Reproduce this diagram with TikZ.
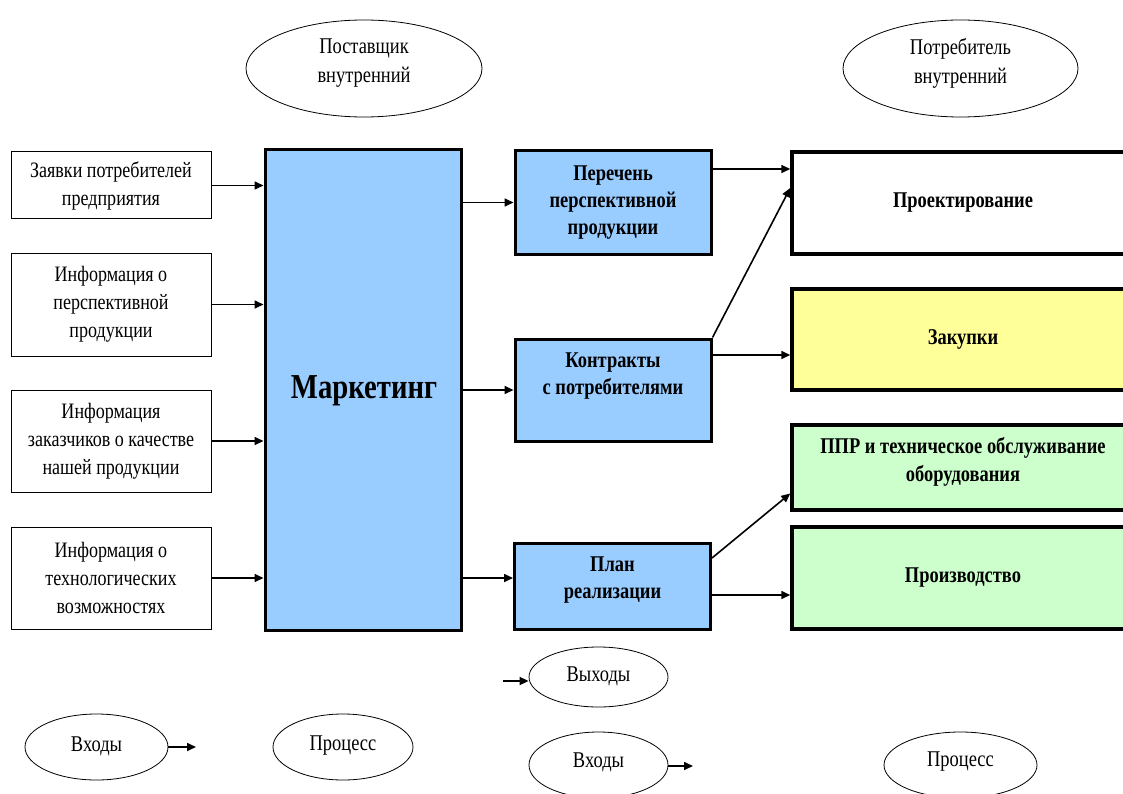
\documentclass[tikz,border=0pt]{standalone}
\usepackage{fontspec}
\setmainfont[FakeStretch=0.82]{Liberation Serif}
\usetikzlibrary{arrows.meta,shapes.geometric,calc}
\definecolor{mblue}{HTML}{99CCFF}
\definecolor{myellow}{HTML}{FFFF99}
\definecolor{mgreen}{HTML}{CCFFCC}
\begin{document}
\begin{tikzpicture}[x=1pt,y=-1pt,
  inbox/.style={draw,line width=1pt,fill=white,align=center,inner sep=0pt,
    minimum width=200pt,font=\fontsize{22}{28}\selectfont},
  midbox/.style={draw,line width=3pt,fill=mblue,align=center,inner sep=0pt,
    minimum width=196pt,font=\bfseries\fontsize{22.5}{27}\selectfont},
  outbox/.style={draw,line width=3.5pt,align=center,inner sep=0pt,
    minimum width=342pt,font=\bfseries\fontsize{22.5}{28}\selectfont},
  oval/.style={draw,ellipse,line width=0.8pt,inner sep=0pt},
  ovaltext/.style={inner sep=0pt,align=center,font=\fontsize{22.5}{29}\selectfont},
  boldtext/.style={inner sep=0pt,align=center,font=\bfseries\fontsize{22.5}{27}\selectfont},
  arr/.style={line width=1.6pt,-{Triangle[length=9pt,width=8pt]}}]
\clip (0,0) rectangle (1123,794);
\fill[white] (0,0) rectangle (1123,794);

% top ellipses
\node[oval,minimum width=236pt,minimum height=97pt] (sup) at (364,68.5) {};
\node[ovaltext] (supt) at (364,63) {Поставщик\\внутренний};
\node[oval,minimum width=235pt,minimum height=97pt] (cons) at (960.5,68.5) {};
\node[ovaltext] (const) at (960.5,63) {Потребитель\\внутренний};

% left input boxes
\node[inbox,minimum height=67pt] (l1) at (111,185.5) {Заявки потребителей\\предприятия};
\node[inbox,minimum height=103pt] (l2) at (111,304.5) {Информация о\\перспективной\\продукции};
\node[inbox,minimum height=102pt] (l3) at (111,441) {Информация\\заказчиков о качестве\\нашей продукции};
\node[inbox,minimum height=102pt] (l4) at (111,578) {Информация о\\технологических\\возможностях};

% marketing
\node[draw,line width=3pt,fill=mblue,minimum width=196pt,minimum height=480pt,inner sep=0pt] (mk) at (363,390) {};
\node[inner sep=0pt,font=\bfseries\fontsize{35}{40}\selectfont] (mkt) at (364,391) {Маркетинг};

% middle boxes
\node[midbox,minimum height=103pt] (pr) at (613,202.5) {Перечень\\перспективной\\продукции};
\node[midbox,minimum height=102pt] (kn) at (613,390) {};
\node[boldtext] (knt) at (613,376) {Контракты\\с потребителями};
\node[midbox,minimum height=86pt] (pl) at (612.5,586) {};
\node[boldtext] (plt) at (612.5,580) {План\\реализации};

% right boxes
\node[outbox,fill=white,minimum height=102pt] (proj) at (963,203) {Проектирование};
\node[outbox,fill=myellow,minimum height=101pt] (zak) at (963,339.5) {Закупки};
\node[outbox,fill=mgreen,minimum height=85pt] (ppr) at (963,467.5) {};
\node[boldtext,font=\bfseries\fontsize{22.5}{28}\selectfont] (pprt) at (963,462) {ППР и техническое обслуживание\\оборудования};
\node[outbox,fill=mgreen,minimum height=102pt] (prod) at (963,578) {Производство};

% arrows inputs -> marketing
\foreach \n in {l1,l2,l3,l4}
  \draw[arr] (\n.east) -- (\n.east -| mk.west);

% marketing -> middle
\draw[arr] (pr.west -| mk.east) -- (pr.west);
\draw[arr] (kn.west -| mk.east) -- (kn.west);
\coordinate (plin) at ($(pl.west)+(0,-8)$);
\draw[arr] (plin -| mk.east) -- (plin);

% middle -> right
\coordinate (prout) at ($(pr.east)+(0,-33.5)$);
\draw[arr] (prout) -- (prout -| proj.west);
\coordinate (projin) at ($(proj.west)+(0,-15)$);
\draw[arr] (kn.north east) -- (projin);
\coordinate (knout) at ($(kn.east)+(0,-35)$);
\draw[arr] (knout) -- (knout -| zak.west);
\coordinate (plup) at ($(pl.east)+(0,-28)$);
\coordinate (pprin) at ($(ppr.west)+(0,26)$);
\draw[arr] (plup) -- (pprin);
\coordinate (pldown) at ($(pl.east)+(0,9)$);
\draw[arr] (pldown) -- (pldown -| prod.west);

% legend
\node[oval,minimum width=139pt,minimum height=60pt] (vyh) at (598.5,677) {};
\node[ovaltext] (vyht) at (598.5,676) {Выходы};
\coordinate (vyhin) at (503,681);
\draw[arr] (vyhin) -- (vyhin -| vyh.west);

\node[oval,minimum width=143pt,minimum height=66pt] (vh1) at (96.5,747) {};
\node[ovaltext] (vh1t) at (96.5,746) {Входы};
\coordinate (vh1out) at (196,747);
\draw[arr] (vh1.east) -- (vh1out);

\node[oval,minimum width=140pt,minimum height=66pt] (pc1) at (343,747) {};
\node[ovaltext] (pc1t) at (343,746) {Процесс};

\node[oval,minimum width=139pt,minimum height=66pt] (vh2) at (598.5,765) {};
\node[ovaltext] (vh2t) at (598.5,762) {Входы};
\coordinate (vh2out) at (693,766);
\draw[arr] (vh2out -| vh2.east) -- (vh2out);

\node[oval,minimum width=153pt,minimum height=66pt] (pc2) at (960.5,765) {};
\node[ovaltext] (pc2t) at (960.5,762) {Процесс};
\end{tikzpicture}
\end{document}
